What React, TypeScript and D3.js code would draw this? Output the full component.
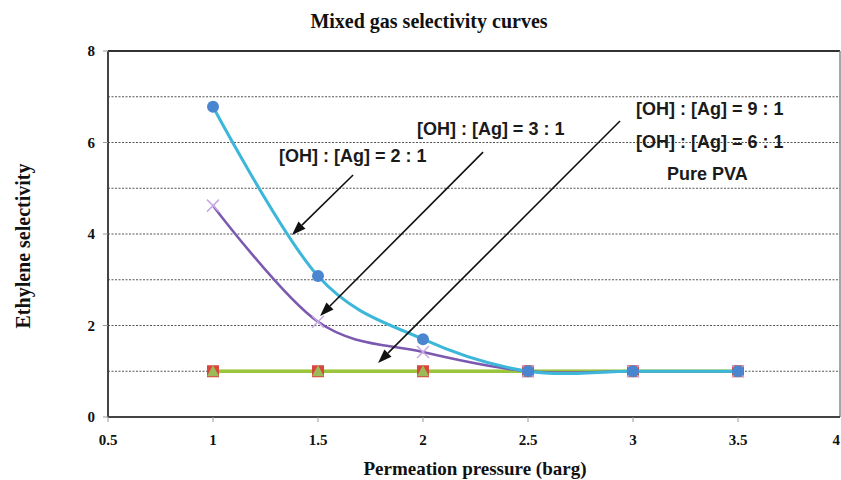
import React from "react";
import * as d3 from "d3";

// Permeation pressure (barg) at which selectivity was measured
const pressure = [1, 1.5, 2, 2.5, 3, 3.5];

// Ethylene selectivity for each membrane
const ratio2to1 = [6.78, 3.08, 1.7, 1.0, 1.0, 1.0];
const ratio3to1 = [4.62, 2.08, 1.42, 1.0, 1.0, 1.0];
const ratio9to1 = [1.0, 1.0, 1.0, 1.0, 1.0, 1.0];
const ratio6to1 = [1.0, 1.0, 1.0, 1.0, 1.0, 1.0];
const purePVA = [1.0, 1.0, 1.0, 1.0, 1.0, 1.0];

const xTicks = [0.5, 1, 1.5, 2, 2.5, 3, 3.5, 4];
const yTicks = [0, 2, 4, 6, 8];
const yGrid = [1, 2, 3, 4, 5, 6, 7];

// Callout labels and their arrows, in data units
const callouts = [
  { text: "[OH] : [Ag] = 2 : 1", lx: 1.314, ly: 5.57, from: [1.667, 5.29], to: [1.376, 3.98] },
  { text: "[OH] : [Ag] = 3 : 1", lx: 1.971, ly: 6.16, from: [2.286, 5.79], to: [1.51, 2.21] },
  { text: "[OH] : [Ag] = 9 : 1", lx: 3.014, ly: 6.6, from: [2.938, 6.47], to: [1.786, 1.18] },
  { text: "[OH] : [Ag] = 6 : 1", lx: 3.014, ly: 5.88, from: null, to: null },
  { text: "Pure PVA", lx: 3.162, ly: 5.18, from: null, to: null },
];

const W = 841;
const H = 480;
const plot = { left: 108, top: 51, right: 840, bottom: 417 };

export default function App() {
  const x = d3.scaleLinear().domain([0.5, 4]).range([plot.left, 843]);
  const y = d3.scaleLinear().domain([0, 8]).range([plot.bottom, plot.top]);

  const line = (vals: number[]) =>
    d3
      .line<number>()
      .x((_, i) => x(pressure[i]))
      .y((v) => y(v))
      .curve(d3.curveCatmullRom.alpha(0))(vals) || "";

  const serif = "'Liberation Serif', 'DejaVu Serif', serif";
  const sans = "'Liberation Sans', Arial, sans-serif";

  const arrowPath = (from: number[], to: number[]) => {
    const x1 = x(from[0]);
    const y1 = y(from[1]);
    const x2 = x(to[0]);
    const y2 = y(to[1]);
    const ang = Math.atan2(y2 - y1, x2 - x1);
    const len = 14;
    const half = 5;
    const bx = x2 - len * Math.cos(ang);
    const by = y2 - len * Math.sin(ang);
    const px = -Math.sin(ang) * half;
    const py = Math.cos(ang) * half;
    return {
      shaft: `M${x1},${y1}L${bx},${by}`,
      head: `M${x2},${y2}L${bx + px},${by + py}L${bx - px},${by - py}Z`,
    };
  };

  return (
    <svg
      width={W}
      height={H}
      style={{ position: "absolute", left: 0, top: 0, background: "#fff" }}
    >
      <rect width={W} height={H} fill="#fff" />
      <text
        x={429}
        y={28}
        textAnchor="middle"
        fontFamily={serif}
        fontWeight="bold"
        fontSize={20}
        fill="#111"
      >
        Mixed gas selectivity  curves
      </text>

      {/* horizontal dotted gridlines */}
      {yGrid.map((v) => (
        <line
          key={v}
          x1={plot.left}
          x2={plot.right}
          y1={y(v)}
          y2={y(v)}
          stroke="#555"
          strokeWidth={1.2}
          strokeDasharray="2,1.5"
        />
      ))}

      {/* frame */}
      <line x1={plot.left} x2={plot.right} y1={plot.top} y2={plot.top} stroke="#333" strokeWidth={2} />
      <line x1={plot.right} x2={plot.right} y1={plot.top} y2={plot.bottom} stroke="#888" strokeWidth={1.5} />
      <line x1={plot.left} x2={plot.left} y1={plot.top} y2={plot.bottom} stroke="#444" strokeWidth={2} />
      <line x1={plot.left} x2={plot.right} y1={plot.bottom} y2={plot.bottom} stroke="#444" strokeWidth={2} />

      {/* y ticks */}
      {yTicks.map((v) => (
        <g key={v}>
          <line x1={plot.left - 5} x2={plot.left} y1={y(v)} y2={y(v)} stroke="#999" strokeWidth={1} />
          <text
            x={plot.left - 13}
            y={y(v) + 5}
            textAnchor="end"
            fontFamily={serif}
            fontWeight="bold"
            fontSize={15}
            fill="#111"
          >
            {v}
          </text>
        </g>
      ))}

      {/* x ticks */}
      {xTicks.map((v, i) => {
        const last = i === xTicks.length - 1;
        return (
          <g key={v}>
            <line x1={x(v)} x2={x(v)} y1={plot.bottom} y2={plot.bottom + 5} stroke="#999" strokeWidth={1} />
            <text
              x={last ? W - 1 : x(v)}
              y={plot.bottom + 28}
              textAnchor={last ? "end" : "middle"}
              fontFamily={serif}
              fontWeight="bold"
              fontSize={15}
              fill="#111"
            >
              {v}
            </text>
          </g>
        );
      })}

      <text
        x={475}
        y={475}
        textAnchor="middle"
        fontFamily={serif}
        fontWeight="bold"
        fontSize={19}
        fill="#111"
      >
        Permeation pressure (barg)
      </text>
      <text
        transform={`translate(30,${246}) rotate(-90)`}
        textAnchor="middle"
        fontFamily={serif}
        fontWeight="bold"
        fontSize={20}
        fill="#111"
      >
        Ethylene selectivity
      </text>

      {/* flat series: 9:1, 6:1, pure PVA */}
      <path d={line(purePVA)} fill="none" stroke="#9BC53D" strokeWidth={3} />
      <path d={line(ratio6to1)} fill="none" stroke="#9BC53D" strokeWidth={3} />
      <path d={line(ratio9to1)} fill="none" stroke="#9BC53D" strokeWidth={3} />
      {ratio9to1.map((v, i) => (
        <rect
          key={"sq" + i}
          x={x(pressure[i]) - 6}
          y={y(v) - 6}
          width={12}
          height={12}
          fill="#D9463E"
        />
      ))}
      {ratio6to1.map((v, i) => {
        const cx = x(pressure[i]);
        const cy = y(v);
        return (
          <path
            key={"tr" + i}
            d={`M${cx},${cy - 6}L${cx + 6},${cy + 5}L${cx - 6},${cy + 5}Z`}
            fill="#9BBB59"
          />
        );
      })}

      {/* 3:1 */}
      <path d={line(ratio3to1)} fill="none" stroke="#7B59B0" strokeWidth={2.5} />
      {ratio3to1.map((v, i) => {
        const cx = x(pressure[i]);
        const cy = y(v);
        return (
          <path
            key={"x" + i}
            d={`M${cx - 6},${cy - 6}L${cx + 6},${cy + 6}M${cx - 6},${cy + 6}L${cx + 6},${cy - 6}`}
            stroke="#C7A9E3"
            strokeWidth={1.5}
          />
        );
      })}

      {/* 2:1 */}
      <path d={line(ratio2to1)} fill="none" stroke="#3CB7DA" strokeWidth={3} />
      {ratio2to1.map((v, i) => (
        <circle key={"c" + i} cx={x(pressure[i])} cy={y(v)} r={6} fill="#4A86D0" />
      ))}

      {/* callouts */}
      {callouts.map((c, i) => {
        const a = c.from && c.to ? arrowPath(c.from, c.to) : null;
        return (
          <g key={"co" + i}>
            <text
              x={x(c.lx)}
              y={y(c.ly)}
              fontFamily={sans}
              fontWeight="bold"
              fontSize={18}
              fill="#1a1a1a"
            >
              {c.text}
            </text>
            {a && (
              <g>
                <path d={a.shaft} stroke="#111" strokeWidth={1.6} fill="none" />
                <path d={a.head} fill="#111" />
              </g>
            )}
          </g>
        );
      })}
    </svg>
  );
}
